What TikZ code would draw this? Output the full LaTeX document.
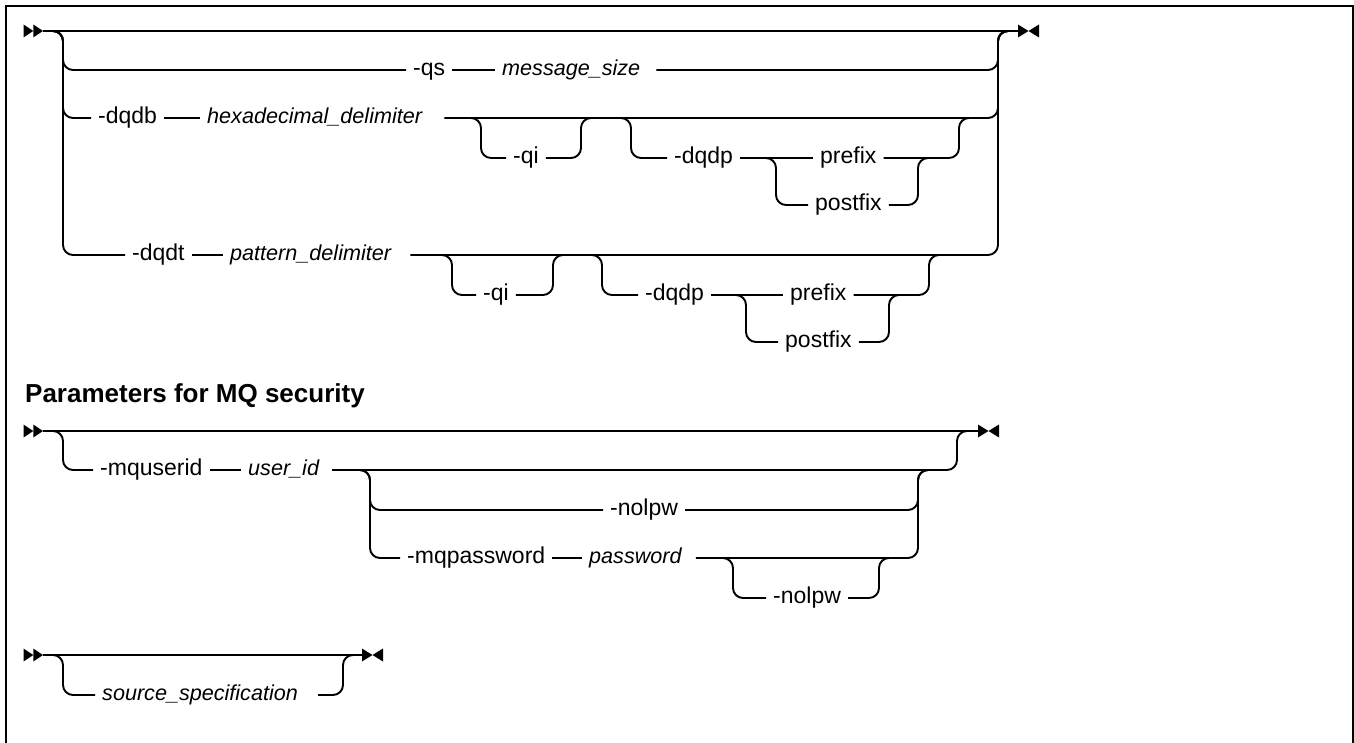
\documentclass[tikz,border=0pt]{standalone}
\usepackage{fontspec}
\setmainfont{Liberation Sans}
\tikzset{
  rail/.style={line width=1.9pt, line join=round},
  rr/.style={rail, rounded corners=10pt},
  kw/.style={anchor=west, inner xsep=7pt, inner ysep=0pt, text height=15.9pt, text depth=4.1pt, font=\fontsize{23}{27}\selectfont},
  var/.style={kw, font=\fontsize{21.6}{26}\selectfont\itshape},
  head/.style={anchor=base west, inner sep=0pt, font=\fontsize{26}{31}\selectfont\bfseries},
  startmark/.pic={
    \fill (-19.5,-6.5) -- (-9.75,0) -- (-19.5,6.5) -- cycle;
    \fill (-9.75,-6.5) -- (0,0) -- (-9.75,6.5) -- cycle;
  },
  endmark/.pic={
    \fill (0,-6.5) -- (10.5,0) -- (0,6.5) -- cycle;
    \fill (21,-6.5) -- (10.5,0) -- (21,6.5) -- cycle;
  }
}
\begin{document}
\begin{tikzpicture}[x=1pt, y=-1pt]
\useasboundingbox (0,0) rectangle (1354,743);
% frame
\draw[line width=2.5pt] (6,743) -- (6,6) -- (1352.8,6) -- (1352.8,743);

% ---------------- Diagram 1 ----------------
\coordinate (s1) at (43,31);
\coordinate (e1) at (1018,31);
\coordinate (L1) at (63,31);
\coordinate (R1) at (998,31);
\pic at (s1) {startmark};
\pic at (e1) {endmark};
\draw[rail] (s1) -- (e1);

% row -qs
\node[kw] (qs) at (406,70) {-qs};
\node[var] (msz) at (495,70) {message\_size};
\draw[rr] ([xshift=-10]L1) -- (L1) |- (qs.west);
\draw[rail] (qs) -- (msz);
\draw[rr] ([xshift=9]msz.east) -| (R1) -- ([xshift=10]R1);

% row -dqdb
\node[kw] (dqdb) at (91,118) {-dqdb};
\node[var] (hex) at (200,118) {hexadecimal\_delimiter};
\draw[rr] ([xshift=-10]L1) -- (L1) |- (dqdb.west);
\draw[rail] (dqdb) -- (hex);
\draw[rr] ([xshift=15]hex.east) -| (R1) -- ([xshift=10]R1);

\coordinate (qBl) at (481,118);
\coordinate (qBr) at (581,118);
\node[kw] (qiB) at (506,158) {-qi};
\draw[rr] ([xshift=-10]qBl) -- (qBl) |- (qiB.west);
\draw[rr] (qiB.east) -| (qBr) -- ([xshift=10]qBr);

\coordinate (dBl) at (631,118);
\coordinate (dBr) at (959,118);
\coordinate (pBl) at (776,158);
\coordinate (pBr) at (918,158);
\node[kw] (dqdpB) at (667,158) {-dqdp};
\node[kw] (preB) at (813,158) {prefix};
\node[kw] (postB) at (808,205) {postfix};
\draw[rr] ([xshift=-10]dBl) -- (dBl) |- (dqdpB.west);
\draw[rail] (dqdpB) -- (preB);
\draw[rr] ([xshift=-10]pBl) -- (pBl) |- (postB.west);
\draw[rr] (postB.east) -| (pBr) -- ([xshift=10]pBr);
\draw[rr] (preB.east) -| (dBr) -- ([xshift=10]dBr);

% row -dqdt
\node[kw] (dqdt) at (125,255) {-dqdt};
\node[var] (pat) at (223,255) {pattern\_delimiter};
\draw[rr] ([xshift=-10]L1) -- (L1) |- (dqdt.west);
\draw[rail] (dqdt) -- (pat);
\draw[rr] ([xshift=12]pat.east) -| (R1) -- ([xshift=10]R1);

\coordinate (qCl) at (452,255);
\coordinate (qCr) at (553,255);
\node[kw] (qiC) at (476,295) {-qi};
\draw[rr] ([xshift=-10]qCl) -- (qCl) |- (qiC.west);
\draw[rr] (qiC.east) -| (qCr) -- ([xshift=10]qCr);

\coordinate (dCl) at (602,255);
\coordinate (dCr) at (929,255);
\coordinate (pCl) at (746,295);
\coordinate (pCr) at (889,295);
\node[kw] (dqdpC) at (638,295) {-dqdp};
\node[kw] (preC) at (783,295) {prefix};
\node[kw] (postC) at (778,342) {postfix};
\draw[rr] ([xshift=-10]dCl) -- (dCl) |- (dqdpC.west);
\draw[rail] (dqdpC) -- (preC);
\draw[rr] ([xshift=-10]pCl) -- (pCl) |- (postC.west);
\draw[rr] (postC.east) -| (pCr) -- ([xshift=10]pCr);
\draw[rr] (preC.east) -| (dCr) -- ([xshift=10]dCr);

% ---------------- Diagram 2 ----------------
\node[head] (hd) at (25,402) {Parameters for MQ security};
\coordinate (s2) at (43,431);
\coordinate (e2) at (978,431);
\coordinate (L2) at (63,431);
\coordinate (R2) at (957,431);
\pic at (s2) {startmark};
\pic at (e2) {endmark};
\draw[rail] (s2) -- (e2);

\node[kw] (mqu) at (93,470) {-mquserid};
\node[var] (uid) at (241,470) {user\_id};
\draw[rr] ([xshift=-10]L2) -- (L2) |- (mqu.west);
\draw[rail] (mqu) -- (uid);
\draw[rr] ([xshift=6]uid.east) -| (R2) -- ([xshift=10]R2);

\coordinate (cl) at (370,470);
\coordinate (cr) at (918,470);
\node[kw] (nol1) at (603,510) {-nolpw};
\node[kw] (mqp) at (400,558) {-mqpassword};
\node[var] (pwd) at (582,558) {password};
\draw[rr] ([xshift=-10]cl) -- (cl) |- (nol1.west);
\draw[rr] (nol1.east) -| (cr) -- ([xshift=10]cr);
\draw[rr] ([xshift=-10]cl) -- (cl) |- (mqp.west);
\draw[rail] (mqp) -- (pwd);
\draw[rr] ([xshift=7]pwd.east) -| (cr) -- ([xshift=10]cr);

\coordinate (nl) at (733,558);
\coordinate (nr) at (879,558);
\node[kw] (nol2) at (766,598) {-nolpw};
\draw[rr] ([xshift=-10]nl) -- (nl) |- (nol2.west);
\draw[rr] (nol2.east) -| (nr) -- ([xshift=10]nr);

% ---------------- Diagram 3 ----------------
\coordinate (s3) at (43,655);
\coordinate (e3) at (362,655);
\coordinate (L3) at (63,655);
\coordinate (R3) at (343,655);
\pic at (s3) {startmark};
\pic at (e3) {endmark};
\draw[rail] (s3) -- (e3);
\node[var] (src) at (95,695) {source\_specification};
\draw[rr] ([xshift=-10]L3) -- (L3) |- (src.west);
\draw[rr] ([xshift=13]src.east) -| (R3) -- ([xshift=10]R3);
\end{tikzpicture}
\end{document}
